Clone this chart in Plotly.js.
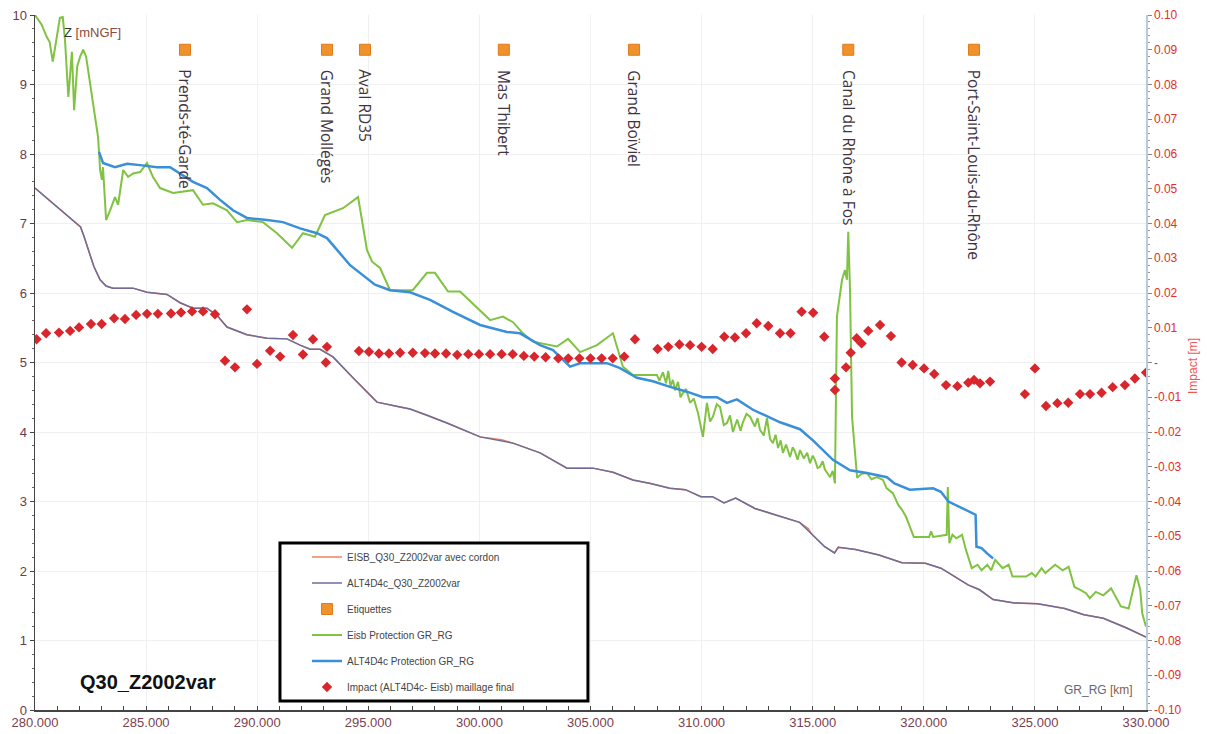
<!DOCTYPE html>
<html>
<head>
<meta charset="utf-8">
<script src="https://cdn.plot.ly/plotly-3.0.1.min.js"></script>
<style>
  html, body { margin: 0; padding: 0; background: #ffffff; }
  #chart { width: 1207px; height: 734px; }
</style>
</head>
<body>
<div id="chart"></div>
<script>
// Water-level profile along GR_RG (km), with impact on the secondary axis

// ALT4D4c_Q30_Z2002var (lower line)
const altKm = [280, 281.9, 282.05, 282.2, 282.39, 282.65, 282.93, 283.2, 283.51, 284.41, 285.04, 285.94, 286.53, 287.11, 287.74, 288.19, 288.64, 289.54, 290.44, 291.34, 291.93, 292.38, 292.83, 293.41, 294.31, 295.39, 296.43, 296.88, 297.64, 298.54, 300.03, 301.51, 302.73, 303.94, 305.11, 306.01, 306.91, 307.7, 308.57, 309.27, 309.97, 310.49, 311.01, 311.53, 312.4, 313.28, 314.41, 314.93, 315.54, 315.98, 316.15, 316.93, 317.98, 319.02, 320.07, 320.77, 321.29, 321.99, 322.51, 323.12, 324.08, 325.12, 326.34, 327.21, 328.08, 329.13, 330];
const altZ = [7.51, 6.99, 6.95, 6.82, 6.62, 6.38, 6.19, 6.10, 6.07, 6.07, 6.01, 5.98, 5.86, 5.78, 5.78, 5.68, 5.51, 5.40, 5.35, 5.34, 5.25, 5.19, 5.19, 5.08, 4.78, 4.43, 4.36, 4.33, 4.24, 4.13, 3.93, 3.84, 3.70, 3.48, 3.48, 3.42, 3.31, 3.26, 3.19, 3.17, 3.07, 3.07, 2.98, 3.05, 2.90, 2.81, 2.70, 2.54, 2.35, 2.26, 2.34, 2.31, 2.23, 2.12, 2.11, 2.04, 1.94, 1.80, 1.73, 1.59, 1.54, 1.53, 1.46, 1.37, 1.32, 1.18, 1.05];

// EISB_Q30_Z2002var avec cordon (runs under the line above)
const eisbKm = [280, 281.9, 282.05, 282.2, 282.39, 282.65, 282.93, 283.2, 283.51, 284.41, 285.04, 285.94, 286.53, 287.11, 287.74, 288.19, 288.64, 289.54, 290.44, 291.34, 291.93, 292.38, 292.83, 293.41, 294.31, 295.39, 296.43, 296.88, 297.64, 298.54, 300.03, 301.0, 301.51, 302.73, 303.94, 305.11, 306.01, 306.91, 307.7, 308.57, 309.27, 309.97, 310.49, 311.01, 311.53, 312.4, 313.28, 314.41, 314.8, 314.93, 315.54, 315.98, 316.15, 316.93, 317.98, 319.02, 320.07, 320.77, 321.29, 321.99, 322.51, 323.12, 324.08, 325.12, 326.34, 327.21, 328.08, 329.13, 330];
const eisbZ = [7.51, 6.99, 6.95, 6.82, 6.62, 6.38, 6.19, 6.10, 6.07, 6.07, 6.01, 5.98, 5.86, 5.78, 5.78, 5.68, 5.51, 5.40, 5.35, 5.34, 5.25, 5.19, 5.19, 5.08, 4.78, 4.43, 4.36, 4.33, 4.24, 4.13, 3.93, 3.89, 3.84, 3.70, 3.48, 3.48, 3.42, 3.31, 3.26, 3.19, 3.17, 3.07, 3.07, 2.98, 3.05, 2.90, 2.81, 2.70, 2.61, 2.54, 2.35, 2.26, 2.34, 2.31, 2.23, 2.12, 2.11, 2.04, 1.94, 1.80, 1.73, 1.59, 1.54, 1.53, 1.46, 1.37, 1.32, 1.18, 1.05];

// Eisb Protection GR_RG
const eisbProtKm = [280.0, 280.3, 280.52, 280.66, 280.8, 280.97, 281.12, 281.25, 281.35, 281.5, 281.66, 281.76, 281.9, 282.03, 282.17, 282.3, 282.48, 282.7, 282.84, 282.93, 283.01, 283.06, 283.2, 283.38, 283.6, 283.74, 283.97, 284.19, 284.41, 284.73, 285.04, 285.31, 285.63, 286.21, 286.66, 287.11, 287.56, 288.01, 288.64, 289.09, 289.54, 290.26, 290.89, 291.57, 292.06, 292.6, 293.05, 293.86, 294.54, 294.94, 295.17, 295.53, 295.98, 297.0, 297.64, 298.0, 298.59, 299.13, 300.48, 301.06, 301.51, 301.96, 302.41, 303.49, 303.99, 304.53, 305.29, 306.01, 306.46, 306.91, 307.99, 308.1, 308.26, 308.4, 308.5, 308.6, 308.71, 308.8, 308.94, 309.05, 309.16, 309.3, 309.48, 309.65, 309.84, 310.06, 310.24, 310.38, 310.51, 310.68, 310.83, 311.0, 311.14, 311.28, 311.41, 311.6, 311.75, 311.86, 312.02, 312.18, 312.4, 312.52, 312.63, 312.8, 312.94, 313.08, 313.21, 313.33, 313.44, 313.56, 313.66, 313.8, 313.98, 314.1, 314.2, 314.32, 314.43, 314.6, 314.75, 314.88, 315.0, 315.1, 315.22, 315.33, 315.45, 315.55, 315.68, 315.78, 315.9, 316.0, 316.09, 316.32, 316.45, 316.54, 316.6, 316.68, 316.77, 316.9, 317.0, 317.2, 317.44, 317.65, 317.89, 318.16, 318.33, 318.61, 318.85, 319.02, 319.2, 319.37, 319.55, 320.24, 320.33, 320.42, 321.03, 321.08, 321.15, 321.29, 321.46, 321.72, 321.9, 322.16, 322.42, 322.6, 322.86, 323.03, 323.21, 323.55, 323.82, 323.99, 324.6, 324.86, 325.03, 325.3, 325.47, 325.91, 326.25, 326.52, 326.78, 327.04, 327.3, 327.47, 327.74, 328.08, 328.43, 328.87, 329.22, 329.57, 329.74, 329.83, 330.0];
const eisbProtZ = [10.0, 9.86, 9.69, 9.61, 9.33, 9.69, 9.96, 9.97, 9.64, 8.82, 9.47, 8.63, 9.26, 9.40, 9.50, 9.40, 9.02, 8.53, 8.24, 7.77, 7.63, 7.81, 7.05, 7.19, 7.38, 7.27, 7.77, 7.67, 7.72, 7.74, 7.87, 7.67, 7.51, 7.44, 7.46, 7.48, 7.27, 7.29, 7.19, 7.02, 7.05, 7.02, 6.86, 6.65, 6.86, 6.81, 7.12, 7.22, 7.38, 6.62, 6.45, 6.36, 6.04, 6.04, 6.29, 6.29, 6.02, 6.02, 5.61, 5.66, 5.58, 5.42, 5.30, 5.23, 5.34, 5.15, 5.25, 5.42, 4.94, 4.82, 4.82, 4.74, 4.86, 4.70, 4.88, 4.66, 4.75, 4.60, 4.72, 4.50, 4.56, 4.62, 4.42, 4.48, 4.27, 3.93, 4.42, 4.15, 4.22, 4.40, 4.36, 4.10, 4.13, 4.24, 4.00, 4.18, 4.02, 4.14, 4.26, 4.22, 4.08, 4.20, 4.03, 3.95, 4.20, 3.90, 3.84, 3.96, 3.77, 3.88, 3.70, 3.82, 3.64, 3.78, 3.72, 3.60, 3.74, 3.62, 3.70, 3.55, 3.66, 3.60, 3.48, 3.50, 3.58, 3.46, 3.40, 3.35, 3.44, 3.26, 5.66, 6.19, 6.33, 6.19, 6.88, 6.04, 4.22, 3.64, 3.34, 3.40, 3.41, 3.32, 3.35, 3.31, 3.19, 3.12, 2.95, 2.88, 2.78, 2.64, 2.49, 2.49, 2.57, 2.49, 2.52, 3.21, 2.40, 2.52, 2.47, 2.52, 2.30, 2.04, 2.09, 2.01, 2.09, 2.01, 2.16, 2.04, 2.09, 1.92, 1.92, 1.97, 1.92, 2.04, 1.97, 2.09, 2.01, 2.06, 1.77, 1.73, 1.68, 1.61, 1.70, 1.65, 1.75, 1.49, 1.46, 1.94, 1.73, 1.39, 1.20];

// ALT4D4c Protection GR_RG
const altProtKm = [282.88, 283.06, 283.6, 284.14, 284.73, 285.49, 286.08, 286.53, 287.11, 287.74, 288.33, 288.91, 289.54, 290.44, 291.16, 291.93, 292.69, 293.14, 293.59, 294.18, 295.3, 295.98, 296.88, 297.78, 298.81, 300.03, 301.24, 301.83, 302.73, 303.31, 304.08, 304.53, 305.74, 306.33, 307.09, 307.81, 308.58, 309.34, 310.06, 310.69, 311.14, 311.59, 312.31, 313.53, 314.43, 315.01, 315.91, 316.68, 317.44, 318.34, 318.68, 319.37, 320.42, 320.77, 321.11, 322.16, 322.33, 322.37, 322.6, 322.86, 323.12];
const altProtZ = [8.03, 7.87, 7.81, 7.86, 7.84, 7.81, 7.81, 7.72, 7.60, 7.51, 7.34, 7.19, 7.08, 7.05, 7.02, 6.93, 6.86, 6.79, 6.62, 6.40, 6.12, 6.04, 6.01, 5.90, 5.73, 5.54, 5.44, 5.42, 5.25, 5.18, 4.94, 4.99, 4.99, 4.92, 4.78, 4.73, 4.65, 4.58, 4.50, 4.50, 4.42, 4.47, 4.32, 4.14, 4.04, 3.88, 3.60, 3.45, 3.41, 3.35, 3.26, 3.17, 3.19, 3.14, 3.00, 2.83, 2.81, 2.35, 2.33, 2.25, 2.18];

// Impact (ALT4D4c - Eisb) maillage final, metres, secondary axis
const impactKm = [280.07, 280.5, 281.08, 281.58, 281.98, 282.52, 283.0, 283.56, 284.05, 284.55, 285.04, 285.53, 286.12, 286.57, 287.07, 287.56, 288.1, 288.55, 289.0, 289.54, 289.99, 290.58, 291.03, 291.61, 292.06, 292.51, 293.09, 293.14, 294.58, 295.03, 295.48, 295.93, 296.43, 297.0, 297.55, 298.0, 298.5, 299.0, 299.5, 299.98, 300.48, 301.0, 301.5, 302.0, 302.47, 302.98, 303.55, 304.0, 304.5, 305.0, 305.5, 306.0, 306.52, 307.0, 308.02, 308.5, 309.0, 309.48, 310.0, 310.5, 311.02, 311.5, 312.0, 312.48, 313.0, 313.53, 314.0, 314.5, 315.02, 315.52, 316.0, 316.0, 316.5, 316.71, 316.98, 317.2, 317.5, 318.03, 318.52, 319.0, 319.5, 320.01, 320.47, 321.0, 321.51, 322.0, 322.26, 322.53, 322.98, 324.55, 325.0, 325.5, 326.01, 326.5, 327.03, 327.48, 328.0, 328.5, 329.05, 329.5, 330.0];
const impactM = [0.0067, 0.0084, 0.0086, 0.0091, 0.0101, 0.0111, 0.0111, 0.0127, 0.0125, 0.0137, 0.0140, 0.0140, 0.0141, 0.0144, 0.0147, 0.0147, 0.0139, 0.0005, -0.0014, 0.0153, -0.0004, 0.0034, 0.0017, 0.0079, 0.0023, 0.0067, 0.0000, 0.0045, 0.0033, 0.0031, 0.0026, 0.0026, 0.0028, 0.0028, 0.0027, 0.0026, 0.0026, 0.0022, 0.0024, 0.0024, 0.0024, 0.0024, 0.0024, 0.0019, 0.0017, 0.0015, 0.0012, 0.0012, 0.0012, 0.0012, 0.0012, 0.0012, 0.0017, 0.0067, 0.0039, 0.0045, 0.0052, 0.0050, 0.0045, 0.0039, 0.0074, 0.0072, 0.0084, 0.0113, 0.0105, 0.0084, 0.0084, 0.0146, 0.0143, 0.0074, -0.0046, -0.0079, -0.0014, 0.0028, 0.0070, 0.0055, 0.0091, 0.0108, 0.0076, 0.0000, -0.0007, -0.0017, -0.0033, -0.0065, -0.0068, -0.0058, -0.0050, -0.0060, -0.0055, -0.0091, -0.0017, -0.0125, -0.0117, -0.0116, -0.0091, -0.0091, -0.0087, -0.0071, -0.0065, -0.0046, -0.0029];

// Etiquettes (named places along the reach)
const labelKm = [286.75, 293.14, 294.85, 301.1, 306.96, 316.6, 322.26];
const labelZ = [9.5, 9.5, 9.5, 9.5, 9.5, 9.5, 9.5];
const labelNames = ["Prends-té-Garde", "Grand Mollégès", "Aval RD35", "Mas Thibert", "Grand Boïviel", "Canal du Rhône à Fos", "Port-Saint-Louis-du-Rhône"];

// Axis tick labels
const kmTicks = [280, 285, 290, 295, 300, 305, 310, 315, 320, 325, 330];
const kmTickText = ["280.000", "285.000", "290.000", "295.000", "300.000", "305.000", "310.000", "315.000", "320.000", "325.000", "330.000"];
const impactTicks = [0.10, 0.09, 0.08, 0.07, 0.06, 0.05, 0.04, 0.03, 0.02, 0.01, 0, -0.01, -0.02, -0.03, -0.04, -0.05, -0.06, -0.07, -0.08, -0.09, -0.10];
const impactTickText = ["0.10", "0.09", "0.08", "0.07", "0.06", "0.05", "0.04", "0.03", "0.02", "0.01", "-", "-0.01", "-0.02", "-0.03", "-0.04", "-0.05", "-0.06", "-0.07", "-0.08", "-0.09", "-0.10"];

const FONT = "Arial, 'Liberation Sans', sans-serif";

const traces = [
  { x: eisbKm, y: eisbZ, mode: "lines", name: "EISB_Q30_Z2002var avec cordon", legendgroup: "g1",
    line: { color: "#e8845c", width: 1.5 } },
  { x: altKm, y: altZ, mode: "lines", name: "ALT4D4c_Q30_Z2002var", legendgroup: "g2",
    line: { color: "#6f6c9a", width: 1.5 } },
  { x: labelKm, y: labelZ, mode: "markers", name: "Etiquettes", legendgroup: "g3",
    marker: { symbol: "square", size: 11, color: "#f0922c", line: { color: "#e07a1c", width: 1 } } },
  { x: eisbProtKm, y: eisbProtZ, mode: "lines", name: "Eisb Protection GR_RG", legendgroup: "g4",
    line: { color: "#80c241", width: 2 } },
  { x: altProtKm, y: altProtZ, mode: "lines", name: "ALT4D4c Protection GR_RG", legendgroup: "g5",
    line: { color: "#3a8fd9", width: 2.5 } },
  { x: impactKm, y: impactM, yaxis: "y2", mode: "markers", name: "Impact (ALT4D4c- Eisb) maillage final", legendgroup: "g6",
    marker: { symbol: "diamond", size: 8, color: "#d8262c" } }
];

// Place-name labels, rotated, hanging under each marker
const annotations = labelNames.map((name, i) => ({
  x: labelKm[i], y: labelZ[i], xref: "x", yref: "y",
  text: name, showarrow: false, textangle: 90,
  xanchor: "center", yanchor: "top", yshift: -18,
  font: { family: "'Open Sans', sans-serif", size: 15.5, color: "#3f3442" }
}));

annotations.push(
  { xref: "paper", yref: "paper", x: 0.0243, y: 0.9755, xanchor: "left", yanchor: "middle", showarrow: false,
    text: "Z <span style='color:#8c4b3c'>[mNGF]</span>", font: { family: FONT, size: 13, color: "#333333" } },
  { xref: "paper", yref: "paper", x: 0.990, y: 0.0288, xanchor: "right", yanchor: "middle", showarrow: false,
    text: "GR_RG <span style='color:#8c5a4a'>[km]</span>", font: { family: FONT, size: 12, color: "#666677" } },
  { xref: "paper", yref: "paper", x: 0.0387, y: 0.0403, xanchor: "left", yanchor: "middle", showarrow: false,
    text: "<b>Q30_Z2002var</b>", font: { family: FONT, size: 20, color: "#111111" } },
  { xref: "paper", yref: "paper", x: 1.0423, y: 0.495, xanchor: "center", yanchor: "middle", showarrow: false,
    text: "Impact [m]", textangle: -90, font: { family: FONT, size: 12, color: "#ee5555" } }
);

const layout = {
  width: 1207, height: 734,
  margin: { l: 35, r: 61, t: 15, b: 24, pad: 0 },
  paper_bgcolor: "#ffffff", plot_bgcolor: "#ffffff",
  font: { family: FONT, size: 12, color: "#333" },
  showlegend: true,
  legend: {
    x: 0.2448, y: 0.241, xanchor: "left", yanchor: "top",
    bgcolor: "rgba(0,0,0,0)", borderwidth: 0,
    tracegroupgap: 7,
    font: { family: FONT, size: 10, color: "#444444" }
  },
  xaxis: {
    range: [280, 330], tickvals: kmTicks, ticktext: kmTickText,
    showgrid: true, gridcolor: "#f0f0f0", zeroline: false,
    showline: true, linecolor: "#444444", linewidth: 1.5,
    ticks: "inside", ticklen: 4, tickcolor: "#444444",
    minor: { dtick: 1, ticks: "inside", ticklen: 4, tickcolor: "#444444", showgrid: false },
    tickfont: { family: FONT, size: 13, color: "#7b4050" }
  },
  yaxis: {
    range: [0, 10], dtick: 1,
    showgrid: true, gridcolor: "#f0f0f0", zeroline: false,
    showline: true, linecolor: "#444444", linewidth: 1.5,
    ticks: "outside", ticklen: 4, tickcolor: "#444444",
    minor: { dtick: 0.2, ticks: "outside", ticklen: 2, tickcolor: "#666666", showgrid: false },
    tickfont: { family: FONT, size: 13, color: "#6b3b4a" }
  },
  yaxis2: {
    range: [-0.10, 0.10], overlaying: "y", side: "right",
    tickvals: impactTicks, ticktext: impactTickText,
    showgrid: false, zeroline: false,
    showline: true, linecolor: "#b9cbd6", linewidth: 1.5,
    ticks: "outside", ticklen: 4, tickcolor: "#888888",
    minor: { dtick: 0.002, ticks: "outside", ticklen: 2, tickcolor: "#999999", showgrid: false },
    tickfont: { family: FONT, size: 12, color: "#e0302a" }
  },
  shapes: [
    { type: "rect", xref: "paper", yref: "paper", layer: "above",
      x0: 0.2205, x1: 0.4977, y0: 0.013, y1: 0.2403,
      line: { color: "#000000", width: 3 }, fillcolor: "#ffffff" }
  ],
  annotations: annotations
};

Plotly.newPlot("chart", traces, layout, { displayModeBar: false, staticPlot: true });
</script>
</body>
</html>
